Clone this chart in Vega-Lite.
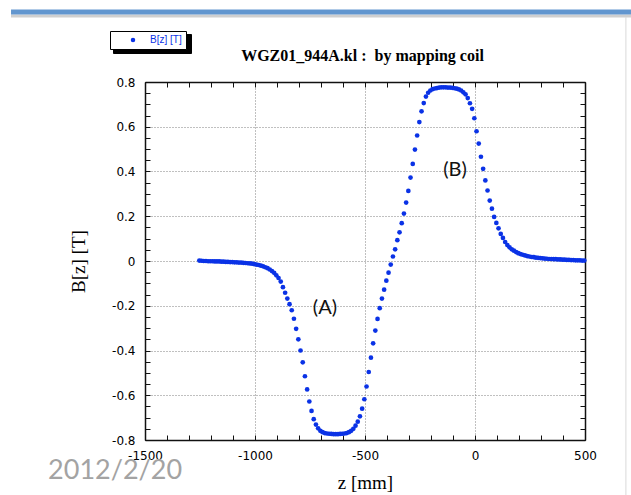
{
  "$schema": "https://vega.github.io/schema/vega-lite/v6.json",
  "width": 440,
  "height": 358,
  "autosize": {"type": "none"},
  "padding": {"left": 145, "top": 82, "right": 46, "bottom": 55},
  "background": "white",
  "config": {
    "view": {"stroke": null},
    "axis": {
      "domainColor": "#111111",
      "domainWidth": 1.5,
      "tickColor": "#111111",
      "tickWidth": 1,
      "labelFont": "DejaVu Sans",
      "labelFontSize": 12,
      "labelColor": "#000000",
      "titleFont": "Liberation Serif",
      "titleFontSize": 19,
      "titleFontWeight": "normal",
      "titleColor": "#000000"
    }
  },
  "datasets": {
    "field": [
      {"z": -1253, "bz": 0.002}, {"z": -1243, "bz": 0.001}, {"z": -1233, "bz": 0.0}, {"z": -1223, "bz": 0.0},
      {"z": -1213, "bz": -0.001}, {"z": -1203, "bz": -0.001}, {"z": -1193, "bz": -0.001}, {"z": -1183, "bz": -0.002},
      {"z": -1173, "bz": -0.002}, {"z": -1163, "bz": -0.002}, {"z": -1153, "bz": -0.003}, {"z": -1143, "bz": -0.003},
      {"z": -1133, "bz": -0.004}, {"z": -1123, "bz": -0.004}, {"z": -1113, "bz": -0.005}, {"z": -1103, "bz": -0.005},
      {"z": -1093, "bz": -0.006}, {"z": -1083, "bz": -0.006}, {"z": -1073, "bz": -0.007}, {"z": -1063, "bz": -0.007},
      {"z": -1053, "bz": -0.008}, {"z": -1043, "bz": -0.009}, {"z": -1033, "bz": -0.010}, {"z": -1023, "bz": -0.011},
      {"z": -1013, "bz": -0.012}, {"z": -1003, "bz": -0.014}, {"z": -993, "bz": -0.016}, {"z": -983, "bz": -0.018},
      {"z": -973, "bz": -0.021}, {"z": -963, "bz": -0.024}, {"z": -953, "bz": -0.028}, {"z": -943, "bz": -0.032},
      {"z": -933, "bz": -0.038}, {"z": -923, "bz": -0.045}, {"z": -913, "bz": -0.053}, {"z": -903, "bz": -0.064},
      {"z": -893, "bz": -0.076}, {"z": -883, "bz": -0.092}, {"z": -873, "bz": -0.117}, {"z": -863, "bz": -0.142},
      {"z": -853, "bz": -0.168}, {"z": -843, "bz": -0.193}, {"z": -833, "bz": -0.220}, {"z": -823, "bz": -0.258},
      {"z": -813, "bz": -0.303}, {"z": -803, "bz": -0.350}, {"z": -793, "bz": -0.400}, {"z": -783, "bz": -0.453},
      {"z": -773, "bz": -0.515}, {"z": -763, "bz": -0.574}, {"z": -753, "bz": -0.628}, {"z": -743, "bz": -0.670},
      {"z": -733, "bz": -0.707}, {"z": -723, "bz": -0.731}, {"z": -713, "bz": -0.748}, {"z": -703, "bz": -0.759},
      {"z": -693, "bz": -0.765}, {"z": -683, "bz": -0.769}, {"z": -673, "bz": -0.771}, {"z": -663, "bz": -0.772},
      {"z": -653, "bz": -0.773}, {"z": -643, "bz": -0.774}, {"z": -633, "bz": -0.774}, {"z": -623, "bz": -0.774},
      {"z": -613, "bz": -0.773}, {"z": -603, "bz": -0.772}, {"z": -593, "bz": -0.771}, {"z": -583, "bz": -0.769},
      {"z": -573, "bz": -0.765}, {"z": -563, "bz": -0.759}, {"z": -553, "bz": -0.750}, {"z": -543, "bz": -0.736},
      {"z": -533, "bz": -0.718}, {"z": -523, "bz": -0.694}, {"z": -513, "bz": -0.660}, {"z": -503, "bz": -0.618},
      {"z": -493, "bz": -0.561}, {"z": -483, "bz": -0.496}, {"z": -473, "bz": -0.432}, {"z": -463, "bz": -0.368},
      {"z": -453, "bz": -0.311}, {"z": -443, "bz": -0.259}, {"z": -433, "bz": -0.211}, {"z": -423, "bz": -0.168},
      {"z": -413, "bz": -0.128}, {"z": -403, "bz": -0.088}, {"z": -393, "bz": -0.052}, {"z": -383, "bz": -0.016},
      {"z": -373, "bz": 0.020}, {"z": -363, "bz": 0.052}, {"z": -353, "bz": 0.093}, {"z": -343, "bz": 0.128},
      {"z": -333, "bz": 0.169}, {"z": -323, "bz": 0.212}, {"z": -313, "bz": 0.261}, {"z": -303, "bz": 0.313},
      {"z": -293, "bz": 0.373}, {"z": -283, "bz": 0.434}, {"z": -273, "bz": 0.498}, {"z": -263, "bz": 0.561},
      {"z": -253, "bz": 0.621}, {"z": -243, "bz": 0.669}, {"z": -233, "bz": 0.706}, {"z": -223, "bz": 0.735},
      {"z": -213, "bz": 0.752}, {"z": -203, "bz": 0.762}, {"z": -193, "bz": 0.768}, {"z": -183, "bz": 0.771},
      {"z": -173, "bz": 0.773}, {"z": -163, "bz": 0.775}, {"z": -153, "bz": 0.776}, {"z": -143, "bz": 0.776},
      {"z": -133, "bz": 0.776}, {"z": -123, "bz": 0.775}, {"z": -113, "bz": 0.775}, {"z": -103, "bz": 0.774},
      {"z": -93, "bz": 0.772}, {"z": -83, "bz": 0.770}, {"z": -73, "bz": 0.767}, {"z": -63, "bz": 0.762},
      {"z": -53, "bz": 0.754}, {"z": -43, "bz": 0.745}, {"z": -33, "bz": 0.728}, {"z": -23, "bz": 0.705},
      {"z": -13, "bz": 0.680}, {"z": -3, "bz": 0.638}, {"z": 7, "bz": 0.580}, {"z": 17, "bz": 0.525},
      {"z": 27, "bz": 0.466}, {"z": 37, "bz": 0.412}, {"z": 47, "bz": 0.360}, {"z": 57, "bz": 0.315},
      {"z": 67, "bz": 0.270}, {"z": 77, "bz": 0.234}, {"z": 87, "bz": 0.197}, {"z": 97, "bz": 0.170},
      {"z": 107, "bz": 0.146}, {"z": 117, "bz": 0.121}, {"z": 127, "bz": 0.103}, {"z": 137, "bz": 0.085},
      {"z": 147, "bz": 0.071}, {"z": 157, "bz": 0.061}, {"z": 167, "bz": 0.052}, {"z": 177, "bz": 0.046},
      {"z": 187, "bz": 0.040}, {"z": 197, "bz": 0.035}, {"z": 207, "bz": 0.031}, {"z": 217, "bz": 0.028},
      {"z": 227, "bz": 0.025}, {"z": 237, "bz": 0.022}, {"z": 247, "bz": 0.020}, {"z": 257, "bz": 0.018},
      {"z": 267, "bz": 0.017}, {"z": 277, "bz": 0.015}, {"z": 287, "bz": 0.014}, {"z": 297, "bz": 0.013},
      {"z": 307, "bz": 0.012}, {"z": 317, "bz": 0.011}, {"z": 327, "bz": 0.010}, {"z": 337, "bz": 0.009},
      {"z": 347, "bz": 0.009}, {"z": 357, "bz": 0.008}, {"z": 367, "bz": 0.008}, {"z": 377, "bz": 0.007},
      {"z": 387, "bz": 0.007}, {"z": 397, "bz": 0.006}, {"z": 407, "bz": 0.006}, {"z": 417, "bz": 0.005},
      {"z": 427, "bz": 0.005}, {"z": 437, "bz": 0.004}, {"z": 447, "bz": 0.004}, {"z": 457, "bz": 0.003},
      {"z": 467, "bz": 0.003}, {"z": 477, "bz": 0.003}, {"z": 487, "bz": 0.002}, {"z": 497, "bz": 0.002}
    ],
    "notes": [
      {"text": "(A)", "z": -682, "bz": -0.211},
      {"text": "(B)", "z": -91, "bz": 0.405}
    ],
    "single": [{}]
  },
  "layer": [
    {
      "description": "soft shadow under the slide header bar",
      "data": {"name": "single"},
      "mark": {"type": "rule", "color": "#cfcfcf", "strokeWidth": 3, "clip": false},
      "encoding": {
        "x": {"datum": -2109, "type": "quantitative", "scale": {"domain": [-1500, 500], "nice": false}, "axis": null},
        "x2": {"datum": 709},
        "y": {"datum": 1.095, "type": "quantitative", "scale": {"domain": [-0.8, 0.8], "nice": false}, "axis": null}
      }
    },
    {
      "description": "slide header bar",
      "data": {"name": "single"},
      "mark": {"type": "rule", "color": "#6296cf", "strokeWidth": 5, "clip": false},
      "encoding": {
        "x": {"datum": -2109, "type": "quantitative", "scale": {"domain": [-1500, 500], "nice": false}, "axis": null},
        "x2": {"datum": 709},
        "y": {"datum": 1.113, "type": "quantitative", "scale": {"domain": [-0.8, 0.8], "nice": false}, "axis": null}
      }
    },
    {
      "description": "slide edge on the right",
      "data": {"name": "single"},
      "mark": {"type": "rule", "color": "#d9d9d9", "strokeWidth": 1, "clip": false},
      "encoding": {
        "x": {"datum": 686, "type": "quantitative", "scale": {"domain": [-1500, 500], "nice": false}, "axis": null},
        "y": {"datum": 1.09, "type": "quantitative", "scale": {"domain": [-0.8, 0.8], "nice": false}, "axis": null},
        "y2": {"datum": -1.05}
      }
    },
    {
      "data": {"name": "field"},
      "mark": {"type": "circle", "size": 22, "opacity": 1},
      "encoding": {
        "x": {
          "field": "z", "type": "quantitative",
          "scale": {"domain": [-1500, 500], "nice": false},
          "axis": {
            "orient": "bottom",
            "title": "z [mm]",
            "values": [-1500, -1400, -1300, -1200, -1100, -1000, -900, -800, -700, -600, -500, -400, -300, -200, -100, 0, 100, 200, 300, 400, 500],
            "labelExpr": "datum.value % 500 === 0 ? (datum.value < 0 ? '-' : '') + abs(datum.value) : ''",
            "labelOverlap": false,
            "labelFlush": false,
            "grid": true,
            "gridDash": [1, 2],
            "gridColor": "#808080",
            "gridOpacity": {"condition": {"test": "datum.value % 500 === 0", "value": 1}, "value": 0},
            "tickSize": -5,
            "labelPadding": 15,
            "titlePadding": 12
          }
        },
        "y": {
          "field": "bz", "type": "quantitative",
          "scale": {"domain": [-0.8, 0.8], "nice": false},
          "axis": {
            "orient": "left",
            "title": "B[z] [T]",
            "values": [-0.8, -0.75, -0.7, -0.65, -0.6, -0.55, -0.5, -0.45, -0.4, -0.35, -0.3, -0.25, -0.2, -0.15, -0.1, -0.05, 0, 0.05, 0.1, 0.15, 0.2, 0.25, 0.3, 0.35, 0.4, 0.45, 0.5, 0.55, 0.6, 0.65, 0.7, 0.75, 0.8],
            "labelExpr": "abs(datum.value * 5 - round(datum.value * 5)) < 0.001 ? (abs(datum.value) < 0.001 ? '0' : (datum.value < 0 ? '-' : '') + format(abs(datum.value), '.1f')) : ''",
            "labelOverlap": false,
            "labelFlush": false,
            "grid": true,
            "gridDash": [1, 2],
            "gridColor": "#808080",
            "gridOpacity": {"condition": {"test": "abs(datum.value * 5 - round(datum.value * 5)) < 0.001", "value": 1}, "value": 0},
            "tickSize": -5,
            "labelPadding": 15,
            "titlePadding": 23
          }
        },
        "color": {
          "datum": "B[z] [T]", "type": "nominal",
          "scale": {"range": ["#0a32e6"]},
          "legend": {
            "orient": "none", "legendX": -35, "legendY": -51,
            "title": null,
            "fillColor": "white", "strokeColor": "#000000",
            "padding": 4,
            "symbolType": "circle", "symbolSize": 20,
            "symbolOffset": 14, "labelOffset": 12,
            "labelColor": "#0a32e6", "labelFont": "Liberation Sans", "labelFontSize": 10,
            "zindex": 2
          }
        }
      }
    },
    {
      "description": "frame ticks on the top and right sides, plus the legend's drop shadow",
      "data": {"name": "field"},
      "mark": {"type": "point", "filled": true, "opacity": 0},
      "encoding": {
        "x": {
          "field": "z", "type": "quantitative",
          "scale": {"domain": [-1500, 500], "nice": false},
          "axis": {
            "orient": "top",
            "title": "WGZ01_944A.kl :\u00a0 by mapping coil",
            "titleFont": "Liberation Serif", "titleFontWeight": "bold", "titleFontSize": 16,
            "titlePadding": 18,
            "titleX": 217,
            "values": [-1500, -1400, -1300, -1200, -1100, -1000, -900, -800, -700, -600, -500, -400, -300, -200, -100, 0, 100, 200, 300, 400, 500],
            "labels": false, "grid": false, "tickSize": -5
          }
        },
        "y": {
          "field": "bz", "type": "quantitative",
          "scale": {"domain": [-0.8, 0.8], "nice": false},
          "axis": {
            "orient": "right", "title": null,
            "values": [-0.8, -0.75, -0.7, -0.65, -0.6, -0.55, -0.5, -0.45, -0.4, -0.35, -0.3, -0.25, -0.2, -0.15, -0.1, -0.05, 0, 0.05, 0.1, 0.15, 0.2, 0.25, 0.3, 0.35, 0.4, 0.45, 0.5, 0.55, 0.6, 0.65, 0.7, 0.75, 0.8],
            "labels": false, "grid": false, "tickSize": -5
          }
        },
        "shape": {
          "datum": "shadow", "type": "nominal",
          "scale": {"range": ["circle"]},
          "legend": {
            "orient": "none", "legendX": -32, "legendY": -48,
            "title": null,
            "fillColor": "#000000", "strokeColor": "#000000",
            "padding": 4,
            "symbolType": "circle", "symbolSize": 20,
            "symbolOffset": 14, "labelOffset": 46,
            "symbolFillColor": "#000000", "symbolStrokeColor": "#000000",
            "labelExpr": "''",
            "labelColor": "#000000", "labelFont": "Liberation Sans", "labelFontSize": 10,
            "zindex": 1
          }
        }
      }
    },
    {
      "data": {"name": "notes"},
      "mark": {"type": "text", "font": "Lato", "fontSize": 20, "color": "#111111"},
      "encoding": {
        "x": {"field": "z", "type": "quantitative", "scale": {"domain": [-1500, 500], "nice": false}, "axis": null},
        "y": {"field": "bz", "type": "quantitative", "scale": {"domain": [-0.8, 0.8], "nice": false}, "axis": null},
        "text": {"field": "text"}
      }
    },
    {
      "data": {"name": "single"},
      "mark": {"type": "text", "text": "2012/2/20", "font": "Lato", "fontSize": 27, "color": "#a3a3a3", "align": "center", "baseline": "middle", "clip": false},
      "encoding": {
        "x": {"datum": -1636, "type": "quantitative", "scale": {"domain": [-1500, 500], "nice": false}, "axis": null},
        "y": {"datum": -0.94, "type": "quantitative", "scale": {"domain": [-0.8, 0.8], "nice": false}, "axis": null}
      }
    }
  ],
  "resolve": {"axis": {"x": "independent", "y": "independent"}}
}
